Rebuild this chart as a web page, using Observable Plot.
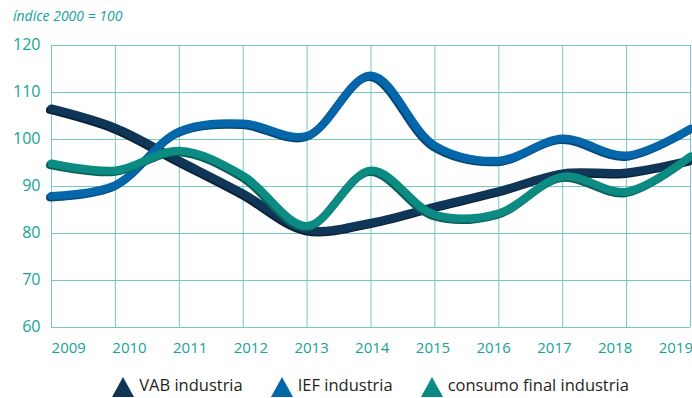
<!DOCTYPE html>
<html><head><meta charset="utf-8">
<script src="https://cdn.jsdelivr.net/npm/d3@7"></script>
<script src="https://cdn.jsdelivr.net/npm/@observablehq/plot@0.6"></script>
<style>
body{margin:0;background:#fff;font-family:"Open Sans",sans-serif;}
#wrap{width:692px;height:398px;position:relative;overflow:hidden;}
#title{height:30px;font-style:italic;color:#12a594;font-size:14px;padding-left:13px;line-height:32px;}
#legend{position:absolute;left:0;width:692px;top:375px;display:flex;justify-content:center;gap:28px;font-size:16.5px;line-height:20px;color:#231f20;padding-left:49px;box-sizing:border-box;}
#legend span{display:flex;align-items:center;gap:5px;}
#legend svg{position:relative;top:2px;}
</style></head><body>
<div id="wrap">
<div id="title">índice 2000 = 100</div>
<div id="chart"></div>
<div id="legend"></div>
</div>
<script>
const years = [2009,2010,2011,2012,2013,2014,2015,2016,2017,2018,2019];
const vab = [106.6,102.5,95.5,88.5,80.8,82.3,85.7,89.0,92.8,93.0,95.6];
const ief = [88.0,90.3,101.7,103.4,100.8,113.6,98.7,95.5,100.2,96.6,102.3];
const consumo = [94.9,93.4,97.6,92.3,81.6,93.4,84.0,84.3,92.1,88.9,96.4];
const yTicks = [60,70,80,90,100,110,120];
const seriesNames = ["VAB industria","IEF industria","consumo final industria"];
const colors = ["#0f3557","#0566a9","#0c8b83"];
const shadows = ["#0a2238","#07477a","#0a5f5a"];

const seriesVals = [vab, ief, consumo];
const data = seriesVals.flatMap((vals,k)=>vals.map((v,i)=>({year:years[i],value:v,series:seriesNames[k]})));

const marks = [
  Plot.ruleX(years,{stroke:"#74c9bb",strokeWidth:1}),
  Plot.ruleY(yTicks,{stroke:"#74c9bb",strokeWidth:1}),
];
seriesNames.forEach((s,k)=>{
  const d = data.filter(r=>r.series===s);
  marks.push(Plot.line(d,{x:"year",y:"value",stroke:shadows[k],strokeWidth:8,curve:"catmull-rom",dx:-1.5,dy:1.5,strokeLinecap:"round"}));
  marks.push(Plot.line(d,{x:"year",y:"value",stroke:colors[k],strokeWidth:8,curve:"catmull-rom",strokeLinecap:"round"}));
});
// x labels spread slightly inside the plot edges
marks.push(Plot.text(years,{x:d=>d+0.27-0.05*(d-2009),y:60,text:d=>String(d),dy:21,fill:"#14a494",fontSize:15,frameAnchor:"middle"}));
marks.push(Plot.text(yTicks,{x:2009,y:d=>d,text:d=>String(d),dx:-11,dy:-1,textAnchor:"end",fill:"#14a494",fontSize:16}));

const chart = Plot.plot({
  width:692,height:340,
  marginTop:15,marginBottom:43,marginLeft:51,marginRight:2,
  x:{domain:[2009,2019],axis:null},
  y:{domain:[60,120],axis:null},
  style:{fontFamily:"Open Sans",overflow:"visible"},
  marks
});
document.getElementById("chart").appendChild(chart);

const leg = document.getElementById("legend");
seriesNames.forEach((s,k)=>{
  const sp = document.createElement("span");
  sp.innerHTML = `<svg width="22" height="20"><polygon points="0,20 11,0 22,20" fill="${colors[k]}"/></svg>${s}`;
  leg.appendChild(sp);
});
</script>
</body></html>
